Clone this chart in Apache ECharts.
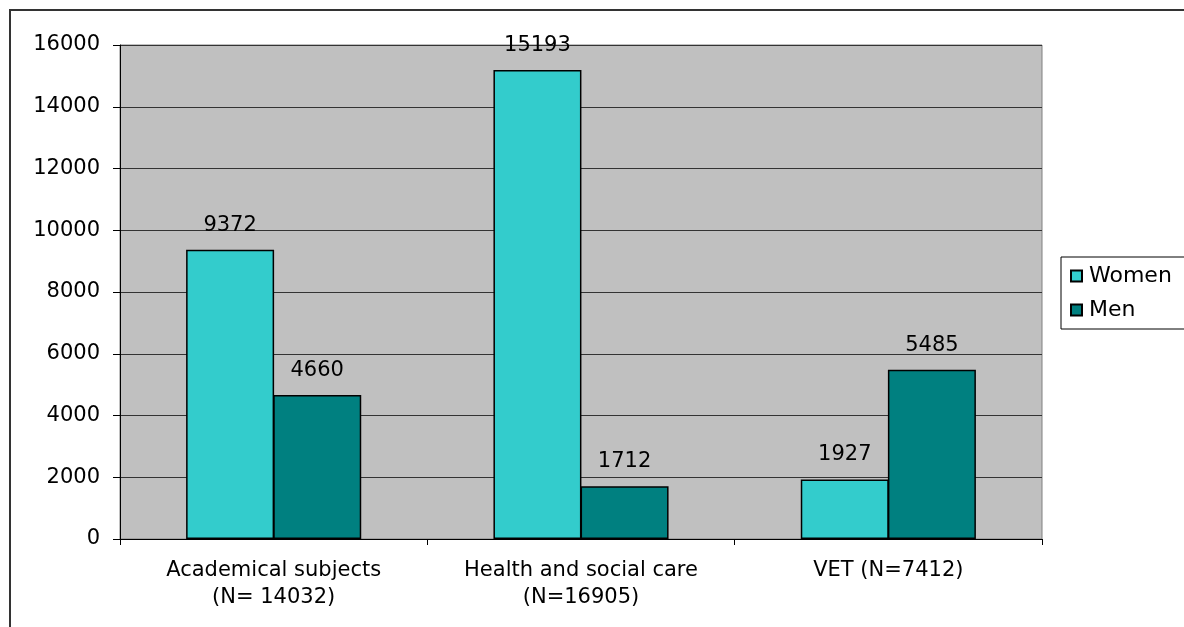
<!DOCTYPE html>
<html>
<head>
<meta charset="utf-8">
<script src="https://cdn.jsdelivr.net/npm/echarts@6/dist/echarts.min.js"></script>
<style>
  html, body { margin: 0; padding: 0; background: #fff; }
  #chart { width: 1184px; height: 627px; }
</style>
</head>
<body>
<div id="chart"></div>
<script>
// Données
const categories = ['Academical subjects\n(N= 14032)', 'Health and social care\n(N=16905)', 'VET (N=7412)'];
const women = [9372, 15193, 1927];
const men = [4660, 1712, 5485];

const FONT = 'DejaVu Sans';

const labelStyle = {
  show: true,
  position: 'top',
  distance: 14,
  color: '#000',
  fontFamily: FONT,
  fontSize: 21
};

const chart = echarts.init(document.getElementById('chart'));
chart.setOption({
  backgroundColor: '#fff',
  animation: false,
  graphic: [{
    type: 'rect',
    shape: { x: 10, y: 10, width: 1300, height: 800 },
    style: { fill: 'none', stroke: '#333', lineWidth: 2 },
    z: -1
  }],
  legend: {
    orient: 'vertical',
    left: 1061,
    top: 257,
    padding: [8, 40, 8, 9],
    itemGap: 12,
    itemWidth: 11,
    itemHeight: 11,
    backgroundColor: '#fff',
    borderColor: '#000',
    borderWidth: 1,
    textStyle: { fontFamily: FONT, fontSize: 22, color: '#000', padding: [0, 0, 0, 2] },
    data: [
      { name: 'Women', icon: 'rect' },
      { name: 'Men', icon: 'rect' }
    ]
  },
  grid: {
    left: 120,
    right: 142,
    top: 45,
    bottom: 88,
    show: true,
    backgroundColor: '#C0C0C0',
    borderColor: '#808080',
    borderWidth: 1
  },
  xAxis: {
    type: 'category',
    data: categories,
    axisLine: { lineStyle: { color: '#000', width: 1 } },
    axisTick: { show: true, interval: 0, length: 6, lineStyle: { color: '#000' } },
    axisLabel: {
      interval: 0,
      hideOverlap: false,
      margin: 18,
      color: '#000',
      fontFamily: FONT,
      fontSize: 21,
      lineHeight: 27
    }
  },
  yAxis: {
    type: 'value',
    min: 0,
    max: 16000,
    interval: 2000,
    axisLine: { show: true, lineStyle: { color: '#000', width: 1 } },
    axisTick: { show: true, length: 7, lineStyle: { color: '#000' } },
    axisLabel: {
      margin: 20,
      color: '#000',
      fontFamily: FONT,
      fontSize: 21,
      formatter: v => String(v)
    },
    splitLine: { show: true, lineStyle: { color: '#333', width: 1 } }
  },
  series: [
    {
      name: 'Women',
      type: 'bar',
      data: women,
      barWidth: 88,
      barGap: '-1%',
      itemStyle: { color: '#33CCCC', borderColor: '#000', borderWidth: 1.5 },
      label: labelStyle
    },
    {
      name: 'Men',
      type: 'bar',
      data: men,
      barWidth: 88,
      itemStyle: { color: '#008080', borderColor: '#000', borderWidth: 1.5 },
      label: labelStyle
    }
  ]
});
</script>
</body>
</html>
